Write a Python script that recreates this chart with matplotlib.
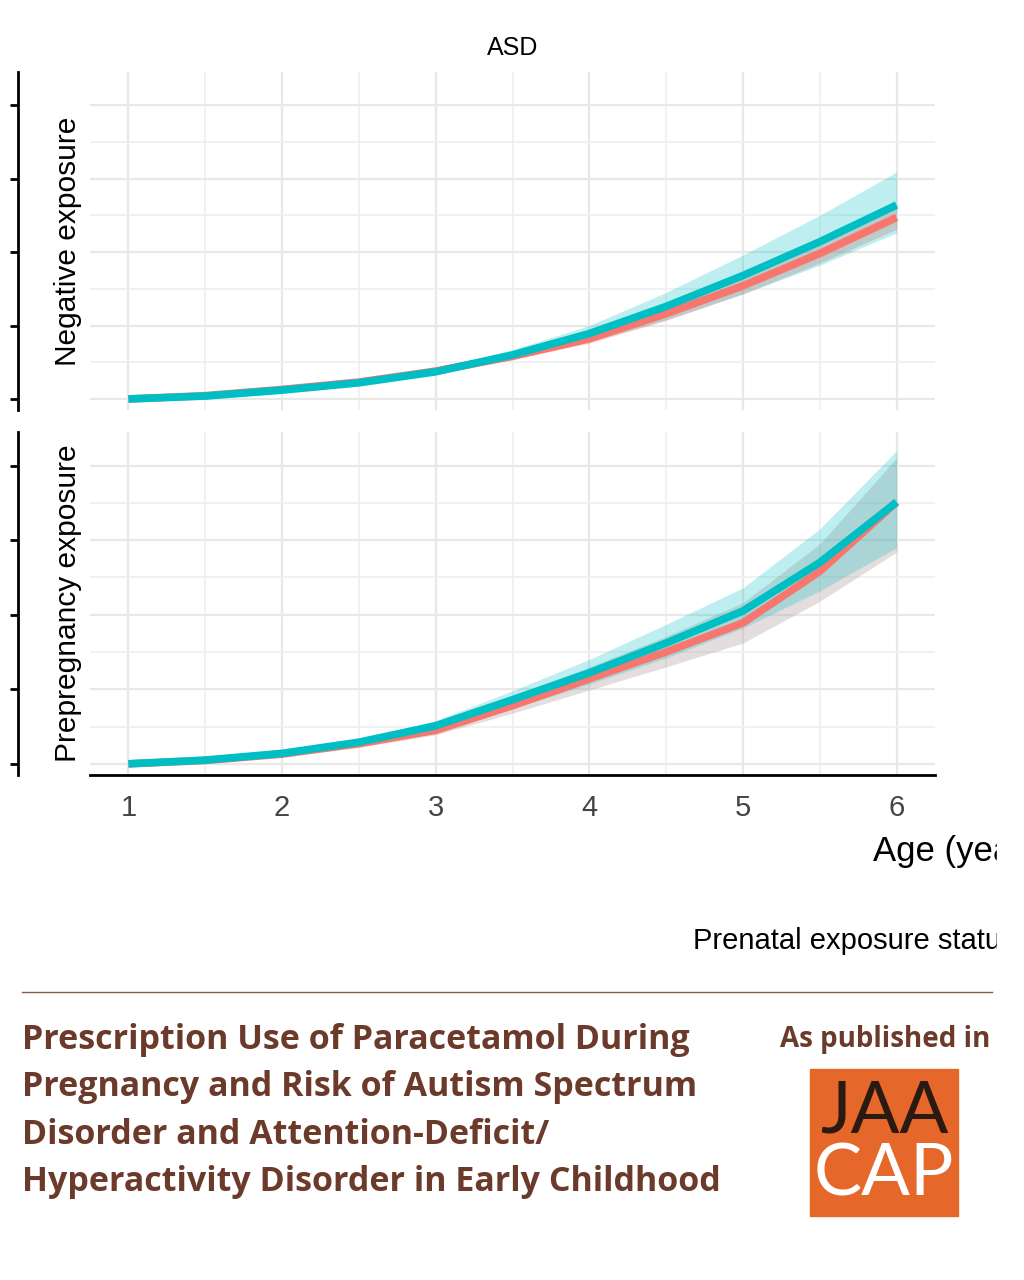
import matplotlib
matplotlib.use("Agg")
import matplotlib.pyplot as plt
import numpy as np
from matplotlib.patches import Rectangle
from matplotlib.lines import Line2D

plt.rcParams["font.family"] = ["Liberation Sans", "DejaVu Sans"]

age = [1, 1.5, 2, 2.5, 3, 3.5, 4, 4.5, 5, 5.5, 6]
# top panel (Negative exposure)
neg_teal = [0, 0.04, 0.12, 0.22, 0.37, 0.6, 0.89, 1.26, 1.68, 2.14, 2.64]
neg_teal_lo = [0, 0.03, 0.10, 0.20, 0.34, 0.54, 0.78, 1.08, 1.43, 1.82, 2.26]
neg_teal_hi = [0, 0.05, 0.14, 0.25, 0.40, 0.67, 1.00, 1.45, 1.96, 2.50, 3.09]
neg_red = [0, 0.045, 0.13, 0.23, 0.38, 0.58, 0.82, 1.16, 1.54, 1.98, 2.47]
neg_red_lo = [0, 0.04, 0.12, 0.21, 0.35, 0.54, 0.76, 1.07, 1.43, 1.85, 2.31]
neg_red_hi = [0, 0.05, 0.14, 0.25, 0.41, 0.62, 0.88, 1.25, 1.66, 2.13, 2.64]
# bottom panel (Prepregnancy exposure)
pre_teal = [0, 0.05, 0.14, 0.29, 0.51, 0.86, 1.22, 1.62, 2.05, 2.70, 3.51]
pre_teal_lo = [0, 0.04, 0.12, 0.25, 0.45, 0.74, 1.07, 1.42, 1.82, 2.32, 2.90]
pre_teal_hi = [0, 0.06, 0.16, 0.33, 0.58, 0.98, 1.40, 1.87, 2.36, 3.15, 4.20]
pre_red = [0, 0.045, 0.13, 0.27, 0.45, 0.78, 1.14, 1.50, 1.89, 2.58, 3.51]
pre_red_lo = [0, 0.035, 0.10, 0.22, 0.39, 0.68, 0.99, 1.30, 1.62, 2.18, 2.84]
pre_red_hi = [0, 0.055, 0.15, 0.31, 0.52, 0.90, 1.30, 1.71, 2.16, 2.95, 4.10]

xticks = [1, 2, 3, 4, 5, 6]
TEAL = "#00BFC4"; RED = "#F8766D"
W, H = 1024, 1280
fig = plt.figure(figsize=(10.24, 12.8), dpi=100)

def ax_at(x0, y0, x1, y1):
    return fig.add_axes([x0 / W, 1 - y1 / H, (x1 - x0) / W, (y1 - y0) / H])

def panel(ax, teal, tlo, thi, red, rlo, rhi, label, band_red_color):
    ax.set_xlim(0.75, 6.25)
    ax.set_ylim(-0.15, 4.45)
    ax.set_xticks(xticks)
    ax.set_xticks([1.5, 2.5, 3.5, 4.5, 5.5], minor=True)
    ax.set_yticks([0, 1, 2, 3, 4])
    ax.set_yticks([0.5, 1.5, 2.5, 3.5], minor=True)
    ax.grid(True, which="major", color="#E8E8E8", lw=1.6)
    ax.grid(True, which="minor", color="#EFEFEF", lw=1.2)
    ax.set_axisbelow(True)
    for s in ["top", "right", "bottom"]:
        ax.spines[s].set_visible(False)
    ax.spines["left"].set_position(("outward", 52))
    ax.spines["left"].set_linewidth(2)
    ax.tick_params(axis="y", which="major", length=6, width=2, labelleft=False)
    ax.tick_params(axis="y", which="minor", length=0)
    ax.tick_params(axis="x", which="both", length=0)
    ax.fill_between(age, rlo, rhi, color=band_red_color, alpha=0.35, lw=0)
    ax.fill_between(age, tlo, thi, color=TEAL, alpha=0.25, lw=0)
    ax.plot(age, red, color=RED, lw=5.5, solid_capstyle="butt", solid_joinstyle="round")
    ax.plot(age, teal, color=TEAL, lw=5.5, solid_capstyle="butt", solid_joinstyle="round")
    ax.set_ylabel(label, fontsize=21.5)

ax1 = ax_at(90, 72, 935, 410)
panel(ax1, neg_teal, neg_teal_lo, neg_teal_hi, neg_red, neg_red_lo, neg_red_hi,
      "Negative exposure", RED)
ax1.tick_params(axis="x", labelbottom=False)
ax1.set_title("ASD", fontsize=18, pad=12)

ax2 = ax_at(90, 432, 935, 775)
panel(ax2, pre_teal, pre_teal_lo, pre_teal_hi, pre_red, pre_red_lo, pre_red_hi,
      "Prepregnancy exposure", "#B0A0A0")
ax2.spines["bottom"].set_visible(True)
ax2.spines["bottom"].set_linewidth(2)
ax2.set_xticklabels([str(v) for v in xticks], fontsize=21, color="#444444")
ax2.tick_params(axis="x", pad=14)
for ax in (ax1, ax2):
    ax.yaxis.set_label_coords(-0.01, 0.5)

fig.text(873 / W, 1 - 852 / H, "Age (years)", fontsize=25, va="center", ha="left")
fig.text(693 / W, 1 - 941 / H, "Prenatal exposure status", fontsize=21, va="center", ha="left")
fig.patches.append(Rectangle((997 / W, 1 - 975 / H), 30 / W, 160 / H,
                             transform=fig.transFigure, color="white", zorder=10))

BROWN = "#6B3A2A"
fig.lines.append(Line2D([22 / W, 992 / W], [1 - 992 / H] * 2, color="#8a5a4a",
                        lw=1, transform=fig.transFigure))
lines = ["Prescription Use of Paracetamol During",
         "Pregnancy and Risk of Autism Spectrum",
         "Disorder and Attention-Deficit/",
         "Hyperactivity Disorder in Early Childhood"]
for i, t in enumerate(lines):
    fig.text(22 / W, 1 - (1040 + 47.3 * i) / H, t, fontsize=24.5, fontweight="bold",
             family="Open Sans", color=BROWN, va="center", ha="left")
fig.text(990 / W, 1 - 1040 / H, "As published in", fontsize=20, fontweight="bold",
         family="Open Sans", color=BROWN, va="center", ha="right")
fig.patches.append(Rectangle((810 / W, 1 - 1216 / H), 148 / W, 147 / H,
                             transform=fig.transFigure, color="#E5672A"))
fig.text(884 / W, 1 - 1112 / H, "JAA", fontsize=52, family="Lato",
         color="#2a1a12", va="center", ha="center")
fig.text(884 / W, 1 - 1175 / H, "CAP", fontsize=52, family="Lato",
         color="white", va="center", ha="center")

fig.savefig("out.png", dpi=100)
